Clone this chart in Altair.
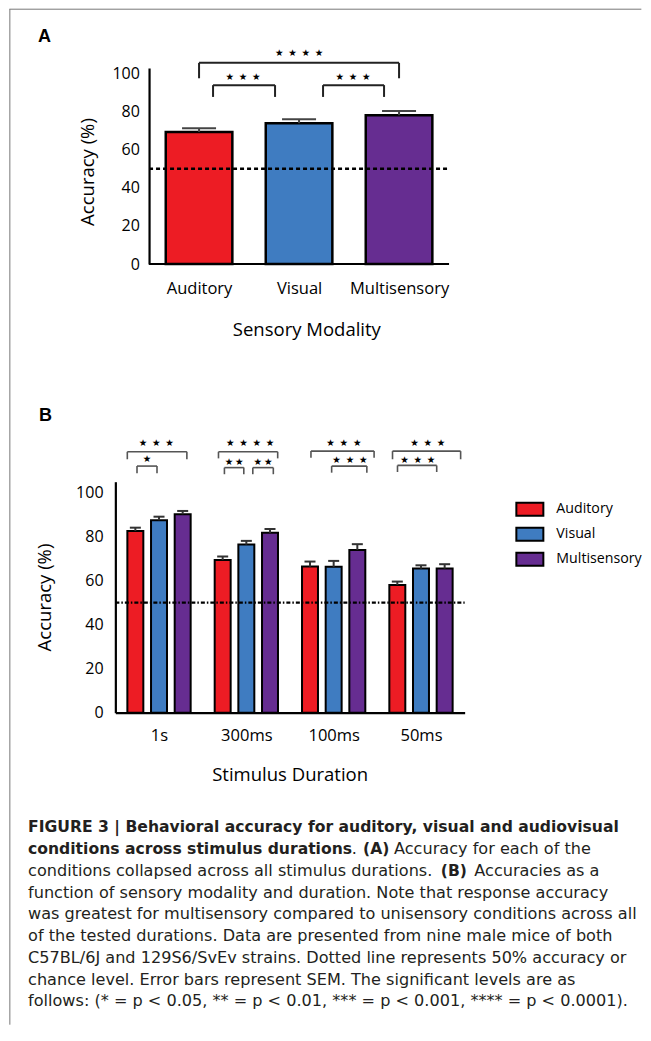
import json
import altair as alt
import pandas as pd

# ---------------- values ----------------
modalities = ["Auditory", "Visual", "Multisensory"]
bar_colors = ["#ED1C24", "#3F7CC1", "#662D91"]

# Panel A: accuracy collapsed over durations
acc_overall = [69.4, 74.0, 78.2]
sem_overall = [2.0, 2.1, 2.2]

# Panel B: accuracy per duration
durations = ["1s", "300ms", "100ms", "50ms"]
acc_auditory = [82.6, 69.4, 66.4, 58.1]
acc_visual = [87.5, 76.4, 66.3, 65.5]
acc_multisensory = [90.2, 81.8, 74.0, 65.5]
sem_auditory = [1.5, 1.6, 2.3, 1.5]
sem_visual = [1.6, 1.7, 2.7, 1.5]
sem_multisensory = [1.5, 1.7, 2.6, 2.0]

chance_level = [50]
y_ticks = [0, 20, 40, 60, 80, 100]

# significance levels (number of stars)
S = "\u2605"
EN = "\u2002"
TH = "\u2009"

# significance brackets, panel A (x in category units, y in %)
sigA_from = [0.0, 0.14, 1.24]
sigA_to = [2.0, 0.76, 1.85]
sigA_top = [105.7, 94.0, 94.0]
sigA_foot = [97.6, 87.8, 87.8]
sigA_text = [EN.join([S] * 4), EN.join([S] * 3), EN.join([S] * 3)]
sigA_tx = [1.0, 0.44, 1.54]
sigA_ty = [110.9, 98.4, 98.4]

# significance brackets, panel B
sigB_from = [-0.363, -0.252, 0.681, 0.749, 1.074, 1.74, 1.977, 2.674, 2.731]
sigB_to = [0.319, -0.023, 1.359, 0.971, 1.309, 2.463, 2.38, 3.454, 3.18]
sigB_top = [118.6, 112.1, 118.6, 111.4, 111.4, 118.9, 112.1, 118.9, 112.4]
sigB_foot = [115.2, 108.8, 115.6, 108.4, 108.4, 115.9, 109.1, 115.2, 109.4]
sigB_text = [EN.join([S] * 3), S, EN.join([S] * 4), TH.join([S] * 2), TH.join([S] * 2),
             EN.join([S] * 3), EN.join([S] * 3), EN.join([S] * 3), EN.join([S] * 3)]
sigB_tx = [-0.031, -0.138, 1.043, 0.86, 1.191, 2.117, 2.186, 3.077, 2.963]
sigB_ty = [122.4, 115.2, 122.4, 113.9, 113.9, 122.7, 114.7, 122.4, 114.7]

# caption text (line number, text, bold)
caption_lines = [
    (0, "FIGURE 3 | Behavioral accuracy for auditory, visual and audiovisual", True),
    (1, "conditions across stimulus durations", True),
    (1, ".", False),
    (1, "(A)", True),
    (1, "Accuracy for each of the", False),
    (2, "conditions collapsed across all stimulus durations.", False),
    (2, "(B)", True),
    (2, "Accuracies as a", False),
    (3, "function of sensory modality and duration. Note that response accuracy", False),
    (4, "was greatest for multisensory compared to unisensory conditions across all", False),
    (5, "of the tested durations. Data are presented from nine male mice of both", False),
    (6, "C57BL/6J and 129S6/SvEv strains. Dotted line represents 50% accuracy or", False),
    (7, "chance level. Error bars represent SEM. The significant levels are as", False),
    (8, "follows: (* = p < 0.05, ** = p < 0.01, *** = p < 0.001, **** = p < 0.0001).", False),
]

# ---------------- layout / style constants ----------------
AX_FONT = "Open Sans"
CAP_FONT = "DejaVu Sans"
LETTER_FONT = "Liberation Sans"
caption_seg_x = [26.7, 26.7, 350.5, 361.7, 392.7, 26.7, 439.5, 473, 26.7, 26.7, 26.7, 26.7, 26.7, 26.7]
caption_top, caption_lh = 826.7, 21.75
frame_color = "#777777"
W_B = 349.3          # panel B plot width
W_A = 281.9          # panel A plot width (centred in the column)


def bracket_segments(x1s, x2s, tops, feet):
    rows = []
    for a, b, t, f in zip(x1s, x2s, tops, feet):
        rows.append(dict(xa=a, xb=b, ya=t, yb=t))
        rows.append(dict(xa=a, xb=a, ya=t, yb=f))
        rows.append(dict(xa=b, xb=b, ya=t, yb=f))
    return pd.DataFrame(rows)


# ======================= Panel A =======================
dfA = pd.DataFrame({"modality": modalities, "pos": list(range(len(modalities))),
                    "acc": acc_overall, "sem": sem_overall})
xA = alt.Scale(domain=[-0.5, -0.5 + W_A / 100], nice=False, zero=False)
yA = alt.Scale(domain=[0, 103], nice=False, zero=False)

axA_x = alt.Axis(values=list(range(len(modalities))),
                 labelExpr=f"{json.dumps(modalities)}[datum.value]",
                 domain=False, ticks=False, tickSize=0, grid=False, labelAngle=0,
                 labelFont=AX_FONT, labelFontSize=16.5, labelColor="black",
                 labelBaseline="alphabetic", labelPadding=29.4, labelOverlap=False, labelFlush=False,
                 title="Sensory Modality", titleFont=AX_FONT, titleFontSize=18.5,
                 titleFontWeight="normal", titleColor="black", titleX=157.3, titleY=71.7,
                 titleBaseline="alphabetic", titleAlign="center")
axA_y = alt.Axis(values=y_ticks, tickCount=len(y_ticks), domainColor="black", domainWidth=2.2,
                 ticks=False, tickSize=0, grid=False, labelOverlap=False, labelFlush=False,
                 labelSeparation=0,
                 labelFont=AX_FONT, labelFontSize=16, labelColor="black", labelPadding=9.7,
                 title="Accuracy (%)", titleFont=AX_FONT, titleFontSize=18.5,
                 titleFontWeight="normal", titleColor="black", titleAngle=270,
                 titleX=-56, titleY=103.5, titleAlign="center", titleBaseline="alphabetic")

baseA = alt.Chart(dfA)
barsA = baseA.transform_calculate(
    xl="datum.pos - 0.333", xr="datum.pos + 0.333"
).mark_bar(stroke="black", strokeWidth=2.5, opacity=1).encode(
    x=alt.X("xl:Q", scale=xA, axis=axA_x),
    x2="xr:Q",
    y=alt.Y("acc:Q", scale=yA, axis=axA_y),
    y2=alt.datum(0),
    color=alt.Color("modality:N", scale=alt.Scale(domain=modalities, range=bar_colors), legend=None),
)
errA = baseA.transform_calculate(hi="datum.acc + datum.sem").mark_rule(
    color="#444444", strokeWidth=2).encode(x="pos:Q", y="acc:Q", y2="hi:Q")
capA = baseA.transform_calculate(
    hi="datum.acc + datum.sem", cl="datum.pos - 0.17", cr="datum.pos + 0.17"
).mark_rule(color="#444444", strokeWidth=2).encode(x="cl:Q", x2="cr:Q", y="hi:Q")
chanceA = alt.Chart(pd.DataFrame({"v": chance_level})).mark_rule(
    color="black", strokeWidth=2.5, strokeDash=[4, 3]).encode(
    x=alt.datum(-0.5), x2=alt.datum(2.5), y="v:Q")
baseLineA = alt.Chart(pd.DataFrame({"v": [0]})).mark_rule(color="black", strokeWidth=2.2).encode(
    x=alt.datum(-0.5), x2=alt.datum(2.5), y="v:Q")
brA = alt.Chart(bracket_segments(sigA_from, sigA_to, sigA_top, sigA_foot)).mark_rule(
    color="#222222", strokeWidth=2).encode(x="xa:Q", x2="xb:Q", y="ya:Q", y2="yb:Q")
starsA = alt.Chart(pd.DataFrame({"tx": sigA_tx, "ty": sigA_ty, "label": sigA_text})).mark_text(
    font=CAP_FONT, fontSize=9.5, baseline="middle", align="center", color="black").encode(
    x="tx:Q", y="ty:Q", text="label:N")

panelA = alt.layer(barsA, errA, capA, chanceA, baseLineA, brA, starsA).properties(
    width=W_A, height=196,
    title=alt.TitleParams("A", anchor="start", frame="group", dx=-111, offset=2,
                          font=LETTER_FONT, fontSize=18, fontWeight="bold", color="black"))

# ======================= Panel B =======================
acc_by_mod = [acc_auditory, acc_visual, acc_multisensory]
sem_by_mod = [sem_auditory, sem_visual, sem_multisensory]
rows = []
for d_i, dur in enumerate(durations):
    for m_i, mod in enumerate(modalities):
        rows.append(dict(duration=dur, modality=mod, group=d_i, slot=m_i - 1,
                         acc=acc_by_mod[m_i][d_i], sem=sem_by_mod[m_i][d_i]))
dfB = pd.DataFrame(rows)
xB = alt.Scale(domain=[-0.5, len(durations) - 0.5], nice=False, zero=False)
yB = alt.Scale(domain=[0, 105], nice=False, zero=False)

axB_x = alt.Axis(values=list(range(len(durations))),
                 labelExpr=f"{json.dumps(durations)}[datum.value]",
                 domainColor="black", domainWidth=2.2, ticks=False, tickSize=0, grid=False,
                 labelAngle=0, labelFont=AX_FONT, labelFontSize=16.5, labelColor="black",
                 labelBaseline="alphabetic", labelPadding=27.3, labelOverlap=False, labelFlush=False,
                 title="Stimulus Duration", titleFont=AX_FONT, titleFontSize=18.5,
                 titleFontWeight="normal", titleColor="black", titleX=174.3, titleY=68,
                 titleBaseline="alphabetic", titleAlign="center")
axB_y = alt.Axis(values=y_ticks, domainColor="black", domainWidth=2.2,
                 ticks=False, tickSize=0, grid=False, labelOverlap=False, labelFlush=False,
                 labelFont=AX_FONT, labelFontSize=16, labelColor="black", labelPadding=12.3,
                 title="Accuracy (%)", titleFont=AX_FONT, titleFontSize=18.5,
                 titleFontWeight="normal", titleColor="black", titleAngle=270,
                 titleX=-65, titleY=115.3, titleAlign="center", titleBaseline="alphabetic")

baseB = alt.Chart(dfB).transform_calculate(pos="datum.group + datum.slot * 0.271")
barsB = baseB.transform_calculate(
    xl="datum.pos - 0.0914", xr="datum.pos + 0.0914"
).mark_bar(stroke="black", strokeWidth=2, opacity=1).encode(
    x=alt.X("xl:Q", scale=xB, axis=axB_x),
    x2="xr:Q",
    y=alt.Y("acc:Q", scale=yB, axis=axB_y),
    y2=alt.datum(0),
    color=alt.Color("modality:N", scale=alt.Scale(domain=modalities, range=bar_colors),
                    legend=alt.Legend(title=None, orient="none", legendX=400, legendY=13.1,
                                      symbolType="M-1,-0.48H1V0.48H-1Z", symbolSize=729,
                                      symbolStrokeColor="black", symbolStrokeWidth=2,
                                      symbolOpacity=1, labelFont=AX_FONT, labelFontSize=14.2,
                                      labelColor="black", labelOffset=12, rowPadding=0)),
)
errB = baseB.transform_calculate(hi="datum.acc + datum.sem").mark_rule(
    color="#333333", strokeWidth=2).encode(x="pos:Q", y="acc:Q", y2="hi:Q")
capB = baseB.transform_calculate(
    hi="datum.acc + datum.sem", cl="datum.pos - 0.063", cr="datum.pos + 0.063"
).mark_rule(color="#333333", strokeWidth=2).encode(x="cl:Q", x2="cr:Q", y="hi:Q")
chanceB = alt.Chart(pd.DataFrame({"v": chance_level})).mark_rule(
    color="black", strokeWidth=2.2, strokeDash=[4, 2, 1.5, 2]).encode(
    x=alt.datum(-0.5), x2=alt.datum(len(durations) - 0.5), y="v:Q")
brB = alt.Chart(bracket_segments(sigB_from, sigB_to, sigB_top, sigB_foot)).mark_rule(
    color="#555555", strokeWidth=1.6).encode(x="xa:Q", x2="xb:Q", y="ya:Q", y2="yb:Q")
starsB = alt.Chart(pd.DataFrame({"tx": sigB_tx, "ty": sigB_ty, "label": sigB_text})).mark_text(
    font=CAP_FONT, fontSize=9.5, baseline="middle", align="center", color="black").encode(
    x="tx:Q", y="ty:Q", text="label:N")

panelB = alt.layer(barsB, errB, capB, chanceB, brB, starsB).properties(
    width=W_B, height=231,
    title=alt.TitleParams("B", anchor="start", frame="group", dx=-76.3, dy=-11, offset=2,
                          font=LETTER_FONT, fontSize=18, fontWeight="bold", color="black"))

# ======================= Caption =======================
capdf = pd.DataFrame({
    "line": [c[0] for c in caption_lines],
    "text": [c[1] for c in caption_lines],
    "bold": [c[2] for c in caption_lines],
    "x": caption_seg_x,
})
capdf["y"] = caption_top + caption_lh * capdf["line"]
xC = alt.Scale(domain=[0, 651], range=[-114, 537], nice=False, zero=False)
yC = alt.Scale(domain=[0, 1041], range=[-929.7, 111.3], nice=False, zero=False)

capBold = alt.Chart(capdf[capdf["bold"]]).mark_text(
    font=CAP_FONT, fontSize=15.6, fontWeight="bold", align="left", baseline="middle",
    color="#231F20").encode(
    x=alt.X("x:Q", scale=xC, axis=None), y=alt.Y("y:Q", scale=yC, axis=None), text="text:N")
capReg = alt.Chart(capdf[~capdf["bold"]]).mark_text(
    font=CAP_FONT, fontSize=16.1, fontWeight="normal", align="left", baseline="middle",
    color="#231F20").encode(x="x:Q", y="y:Q", text="text:N")
frame = alt.Chart(pd.DataFrame({"xa": [8, 8.5], "xb": [640, 8.5],
                                "ya": [8.5, 8.5], "yb": [8.5, 1024]})).mark_rule(
    color=frame_color, strokeWidth=1).encode(x="xa:Q", x2="xb:Q", y="ya:Q", y2="yb:Q")
caption = alt.layer(capBold, capReg, frame).properties(width=W_B, height=80)

chart = alt.vconcat(panelA, panelB, caption, spacing=217.7, bounds="flush", center=True).resolve_scale(
    color="independent", x="independent", y="independent"
).resolve_legend(color="independent").properties(padding=0).configure_view(
    stroke="transparent").configure_axis(labelOverlap=False)

chart.save("out.html", embed_options={"renderer": "svg", "actions": False})
